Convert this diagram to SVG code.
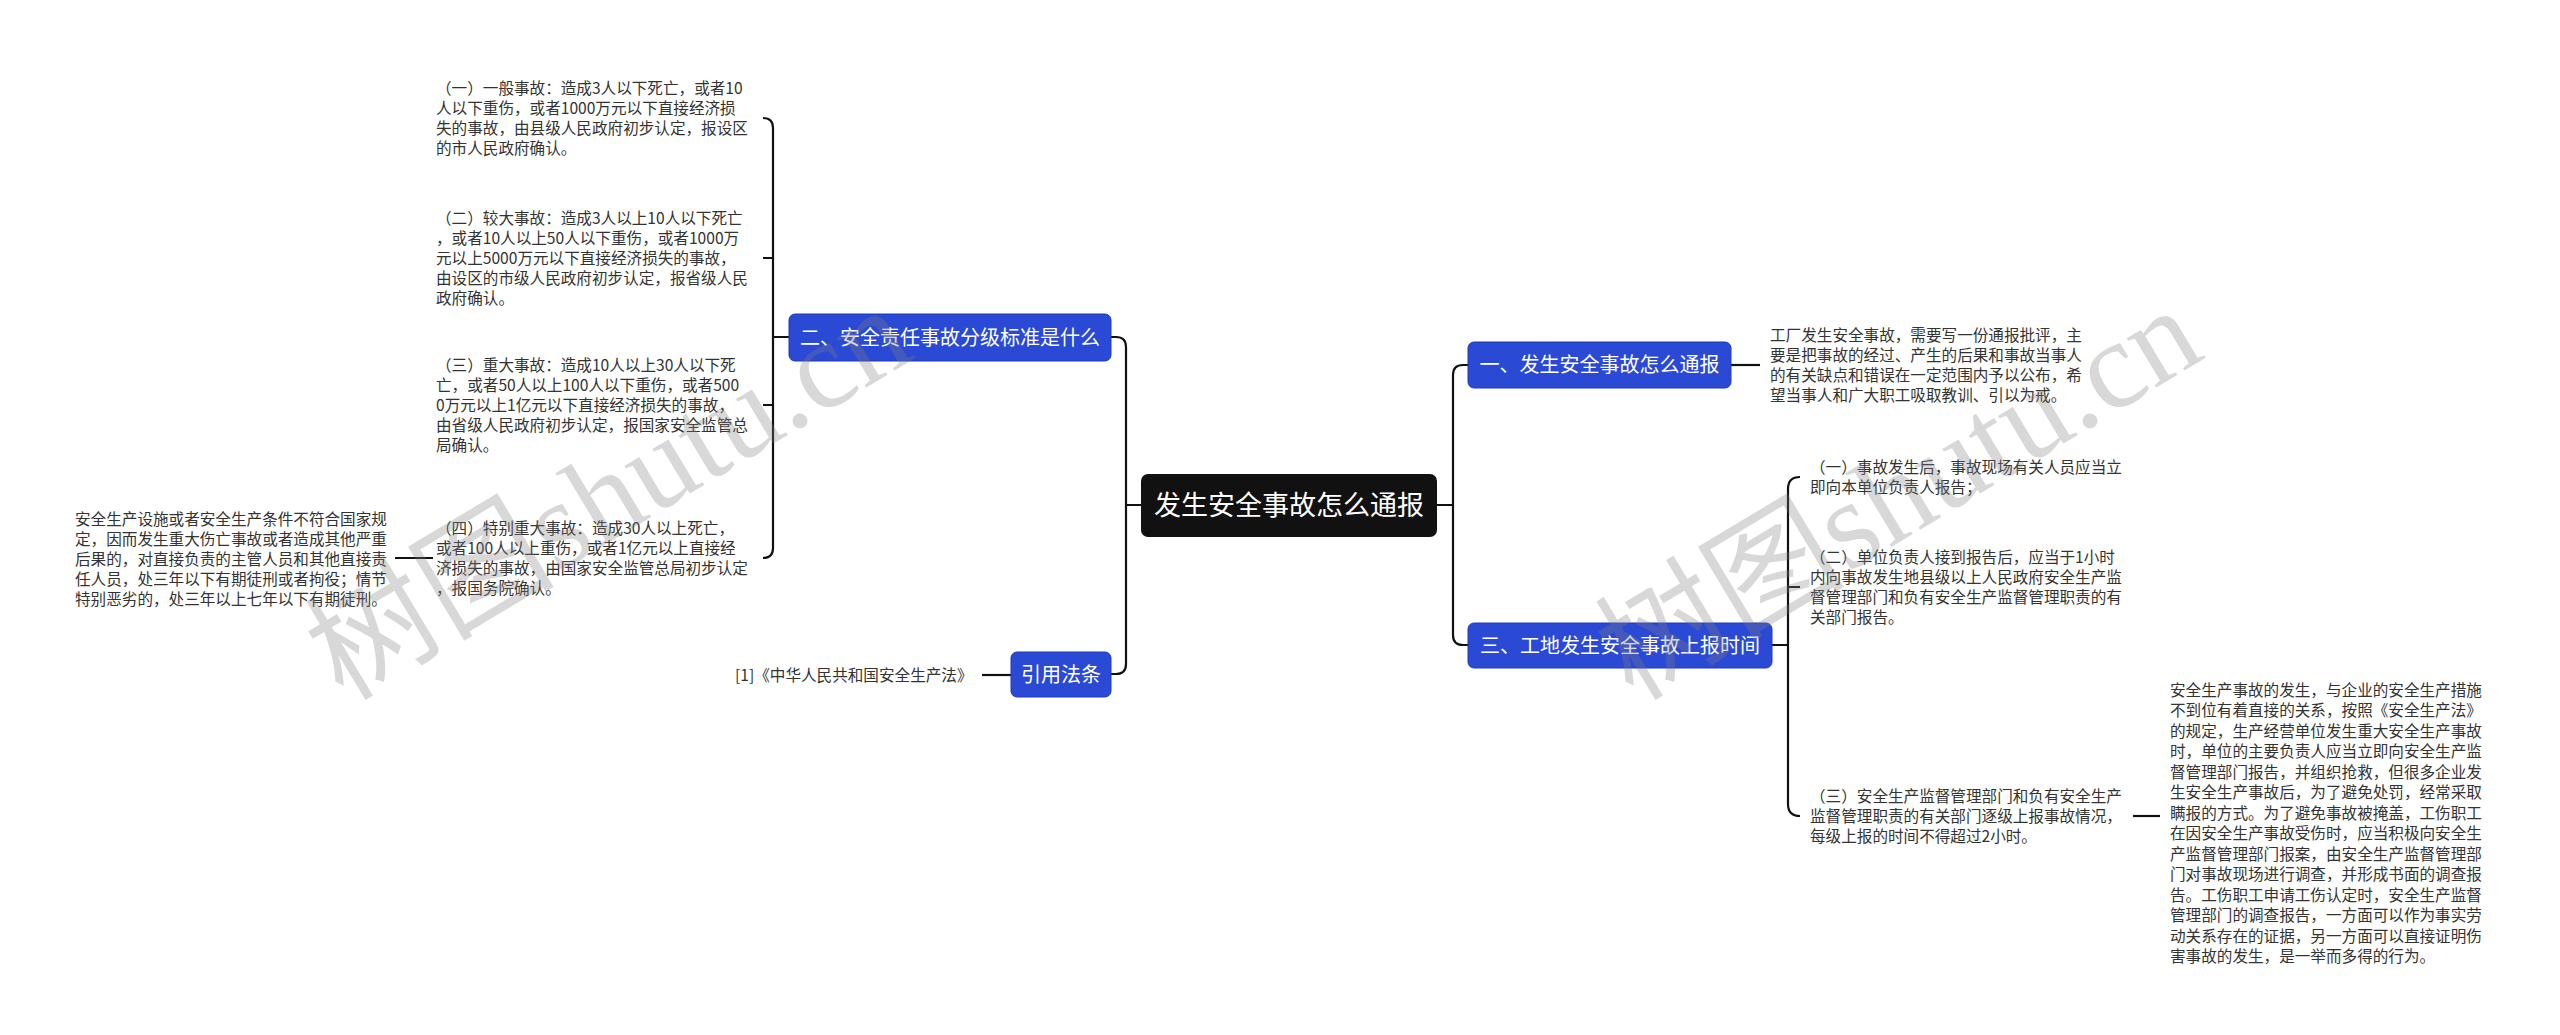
<svg xmlns="http://www.w3.org/2000/svg" width="2560" height="1035" viewBox="0 0 2560 1035">
<style>
.t{font-family:"Noto Sans CJK SC","Microsoft YaHei",sans-serif;font-size:15.6px;fill:#333}
.nb{fill:#2a49d5;stroke:#1f3ab8;stroke-width:1}
.nt{font-family:"Noto Sans CJK SC",sans-serif;font-size:20px;fill:#fff;text-anchor:middle}
.ct{font-family:"Noto Sans CJK SC",sans-serif;font-size:27px;fill:#fff;text-anchor:middle}
.c{fill:none;stroke:#111;stroke-width:2.2}
.wm{font-family:"Liberation Serif","Noto Sans CJK SC",serif;font-size:125px;fill:#808080;opacity:0.3}
</style>
<rect width="2560" height="1035" fill="#fff"/>
<g id="connectors">
<path class="c" d="M1437,505 H1453 M1468,365 H1463 Q1453,365 1453,375 V635 Q1453,645 1463,645 H1468"/>
<path class="c" d="M1126,505 H1141 M1111,337 H1116 Q1126,337 1126,347 V664 Q1126,674 1116,674 H1111"/>
<path class="c" d="M789,337 H773 M763,118 Q773,118 773,128 V548 Q773,558 763,558 M773,258 H763 M773,405 H763"/>
<path class="c" d="M433,558 H395"/>
<path class="c" d="M982,675 H1011"/>
<path class="c" d="M1731,365 H1760"/>
<path class="c" d="M1772,645 H1788 M1800,477 Q1788,477 1788,489 V804 Q1788,816 1800,816 M1788,587 H1800"/>
<path class="c" d="M2133,816 H2160"/>
</g>
<g id="central">
<rect x="1141" y="474" width="296" height="63" rx="7" fill="#111"/>
<text class="ct" x="1289" y="515">发生安全事故怎么通报</text>
</g>
<g id="node-2">
<rect class="nb" x="789" y="314" width="322" height="47" rx="6"/>
<text class="nt" x="950" y="344.5">二、安全责任事故分级标准是什么</text>
</g>
<g id="node-law">
<rect class="nb" x="1011" y="652" width="100" height="45" rx="6"/>
<text class="nt" x="1061" y="681.5">引用法条</text>
</g>
<g id="node-1">
<rect class="nb" x="1468" y="342" width="263" height="46" rx="6"/>
<text class="nt" x="1599.5" y="372">一、发生安全事故怎么通报</text>
</g>
<g id="node-3">
<rect class="nb" x="1468" y="623" width="304" height="45" rx="6"/>
<text class="nt" x="1620" y="652.5">三、工地发生安全事故上报时间</text>
</g>
<g id="t1">
<text class="t"><tspan x="436" y="93.5">（一）一般事故：造成3人以下死亡，或者10</tspan><tspan x="436" y="113.5">人以下重伤，或者1000万元以下直接经济损</tspan><tspan x="436" y="133.5">失的事故，由县级人民政府初步认定，报设区</tspan><tspan x="436" y="153.5">的市人民政府确认。</tspan></text>
</g>
<g id="t2">
<text class="t"><tspan x="436" y="223.5">（二）较大事故：造成3人以上10人以下死亡</tspan><tspan x="436" y="243.5">，或者10人以上50人以下重伤，或者1000万</tspan><tspan x="436" y="263.5">元以上5000万元以下直接经济损失的事故，</tspan><tspan x="436" y="283.5">由设区的市级人民政府初步认定，报省级人民</tspan><tspan x="436" y="303.5">政府确认。</tspan></text>
</g>
<g id="t3">
<text class="t"><tspan x="436" y="370.5">（三）重大事故：造成10人以上30人以下死</tspan><tspan x="436" y="390.5">亡，或者50人以上100人以下重伤，或者500</tspan><tspan x="436" y="410.5">0万元以上1亿元以下直接经济损失的事故，</tspan><tspan x="436" y="430.5">由省级人民政府初步认定，报国家安全监管总</tspan><tspan x="436" y="450.5">局确认。</tspan></text>
</g>
<g id="t4">
<text class="t"><tspan x="436" y="533.5">（四）特别重大事故：造成30人以上死亡，</tspan><tspan x="436" y="553.5">或者100人以上重伤，或者1亿元以上直接经</tspan><tspan x="436" y="573.5">济损失的事故，由国家安全监管总局初步认定</tspan><tspan x="436" y="593.5">，报国务院确认。</tspan></text>
</g>
<g id="t5">
<text class="t"><tspan x="75" y="524.5">安全生产设施或者安全生产条件不符合国家规</tspan><tspan x="75" y="544.5">定，因而发生重大伤亡事故或者造成其他严重</tspan><tspan x="75" y="564.5">后果的，对直接负责的主管人员和其他直接责</tspan><tspan x="75" y="584.5">任人员，处三年以下有期徒刑或者拘役；情节</tspan><tspan x="75" y="604.5">特别恶劣的，处三年以上七年以下有期徒刑。</tspan></text>
</g>
<g id="ref">
<text class="t" x="735" y="680.5">[1]《中华人民共和国安全生产法》</text>
</g>
<g id="r1">
<text class="t"><tspan x="1770" y="340.5">工厂发生安全事故，需要写一份通报批评，主</tspan><tspan x="1770" y="360.5">要是把事故的经过、产生的后果和事故当事人</tspan><tspan x="1770" y="380.5">的有关缺点和错误在一定范围内予以公布，希</tspan><tspan x="1770" y="400.5">望当事人和广大职工吸取教训、引以为戒。</tspan></text>
</g>
<g id="item1">
<text class="t"><tspan x="1810" y="472.5">（一）事故发生后，事故现场有关人员应当立</tspan><tspan x="1810" y="492.5">即向本单位负责人报告；</tspan></text>
</g>
<g id="item2">
<text class="t"><tspan x="1810" y="562.5">（二）单位负责人接到报告后，应当于1小时</tspan><tspan x="1810" y="582.5">内向事故发生地县级以上人民政府安全生产监</tspan><tspan x="1810" y="602.5">督管理部门和负有安全生产监督管理职责的有</tspan><tspan x="1810" y="622.5">关部门报告。</tspan></text>
</g>
<g id="item3">
<text class="t"><tspan x="1810" y="801.5">（三）安全生产监督管理部门和负有安全生产</tspan><tspan x="1810" y="821.5">监督管理职责的有关部门逐级上报事故情况，</tspan><tspan x="1810" y="841.5">每级上报的时间不得超过2小时。</tspan></text>
</g>
<g id="item3-detail">
<text class="t"><tspan x="2170" y="695.5">安全生产事故的发生，与企业的安全生产措施</tspan><tspan x="2170" y="716">不到位有着直接的关系，按照《安全生产法》</tspan><tspan x="2170" y="736.5">的规定，生产经营单位发生重大安全生产事故</tspan><tspan x="2170" y="757">时，单位的主要负责人应当立即向安全生产监</tspan><tspan x="2170" y="777.5">督管理部门报告，并组织抢救，但很多企业发</tspan><tspan x="2170" y="798">生安全生产事故后，为了避免处罚，经常采取</tspan><tspan x="2170" y="818.5">瞒报的方式。为了避免事故被掩盖，工伤职工</tspan><tspan x="2170" y="839">在因安全生产事故受伤时，应当积极向安全生</tspan><tspan x="2170" y="859.5">产监督管理部门报案，由安全生产监督管理部</tspan><tspan x="2170" y="880">门对事故现场进行调查，并形成书面的调查报</tspan><tspan x="2170" y="900.5">告。工伤职工申请工伤认定时，安全生产监督</tspan><tspan x="2170" y="921">管理部门的调查报告，一方面可以作为事实劳</tspan><tspan x="2170" y="941.5">动关系存在的证据，另一方面可以直接证明伤</tspan><tspan x="2170" y="962">害事故的发生，是一举而多得的行为。</tspan></text>
</g>
<g id="watermarks">
<text class="wm" transform="translate(343,702) rotate(-31)">树图shutu.cn</text>
<text class="wm" transform="translate(1633,702) rotate(-31)">树图shutu.cn</text>
</g>
</svg>
